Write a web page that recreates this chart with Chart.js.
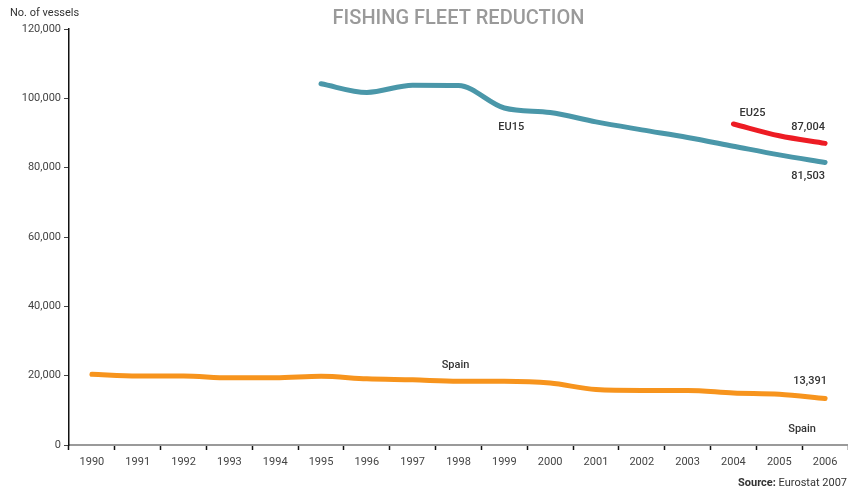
<!DOCTYPE html>
<html>
<head>
<meta charset="utf-8">
<title>Fishing fleet reduction</title>
<script src="https://cdn.jsdelivr.net/npm/chart.js@4.4.1/dist/chart.umd.min.js"></script>
<style>
  html, body { margin: 0; padding: 0; background: #fff; }
  #wrap { width: 848px; height: 488px; }
</style>
</head>
<body>
<div id="wrap"><canvas id="fleetchart" width="848" height="488"></canvas></div>
<script>
const years = ['1990','1991','1992','1993','1994','1995','1996','1997','1998',
               '1999','2000','2001','2002','2003','2004','2005','2006'];

// number of vessels, null where no figure exists
const eu15 = [null, null, null, null, null, 104200, 101700, 103800, 103700,
              97200, 95900, 93200, 90900, 88700, 86200, 83700, 81503];
const eu25 = [null, null, null, null, null, null, null, null, null,
              null, null, null, null, null, 92600, 89200, 87004];
const spain = [20400, 19900, 19900, 19400, 19400, 19800, 19100, 18800, 18400,
               18400, 17900, 16000, 15750, 15750, 15000, 14650, 13391];

const yTicks = [0, 20000, 40000, 60000, 80000, 100000, 120000];

const FONT = 'Roboto, "DejaVu Sans", sans-serif';
const fmt = v => v.toLocaleString('en-US');

// free text: title, axis caption, series names, end values, source
const textPlugin = {
    id: 'fleetText',
    afterDraw(chart) {
        const { ctx, chartArea, scales } = chart;
        const x = scales.x, y = scales.y;
        const last = years.length - 1;
        ctx.save();
        ctx.textBaseline = 'middle';

        ctx.font = '500 20px ' + FONT;
        ctx.fillStyle = '#9a9a9a';
        ctx.textAlign = 'center';
        ctx.fillText('FISHING FLEET REDUCTION', (chartArea.left + chartArea.right) / 2, 19);

        ctx.font = '11px ' + FONT;
        ctx.fillStyle = '#333';
        ctx.textAlign = 'left';
        ctx.fillText('No. of vessels', 10, 13);

        ctx.font = '500 11px ' + FONT;
        ctx.fillStyle = '#333';

        const label = (txt, xi, val, dx, dy, align) => {
            ctx.textAlign = align || 'center';
            ctx.fillText(txt, x.getPixelForValue(xi) + dx, y.getPixelForValue(val) + dy);
        };

        label('EU15', 9, eu15[9], 7, 19);
        label('EU25', 14, eu25[14], 19, -11);
        label(fmt(eu25[last]), last, eu25[last], 0, -16, 'right');
        label(fmt(eu15[last]), last, eu15[last], 0, 14, 'right');
        label('Spain', 8, spain[8], -3, -16);
        label(fmt(spain[last]), last, spain[last], 2, -17, 'right');
        label('Spain', last, spain[last], -23, 31);

        ctx.textAlign = 'right';
        const src = 'Eurostat 2007';
        ctx.font = '11px ' + FONT;
        const w = ctx.measureText(src).width;
        ctx.fillText(src, 847, 483);
        ctx.font = 'bold 11px ' + FONT;
        ctx.fillText('Source: ', 847 - w, 483);
        ctx.restore();
    }
};

const lineStyle = color => ({
    borderColor: color,
    backgroundColor: color,
    borderWidth: 5,
    borderCapStyle: 'round',
    borderJoinStyle: 'round',
    pointRadius: 0,
    cubicInterpolationMode: 'monotone',
    fill: false
});

const ctx = document.getElementById('fleetchart').getContext('2d');

const fleetChart = new Chart(ctx, {
    type: 'line',
    data: {
        labels: years,
        datasets: [
            { label: 'EU15', data: eu15, ...lineStyle('#4a97a9') },
            { label: 'EU25', data: eu25, ...lineStyle('#ed1c24') },
            { label: 'Spain', data: spain, ...lineStyle('#f7941d') }
        ]
    },
    options: {
        responsive: false,
        animation: false,
        devicePixelRatio: 1,
        layout: { padding: { top: 29, right: 0, bottom: 0, left: 0 } },
        plugins: {
            legend: { display: false },
            tooltip: { enabled: false }
        },
        scales: {
            x: {
                offset: true,
                afterFit: scale => { scale.height = 43; },
                grid: {
                    offset: true,
                    drawOnChartArea: false,
                    drawTicks: true,
                    tickLength: 5,
                    tickWidth: 1.5,
                    tickColor: '#111'
                },
                border: { color: '#9a9a9a', width: 2 },
                ticks: {
                    color: '#444',
                    padding: 6,
                    maxRotation: 0,
                    autoSkip: false,
                    font: { family: FONT, size: 11 }
                }
            },
            y: {
                min: 0,
                max: 120000,
                afterFit: scale => { scale.width = 69; },
                afterBuildTicks: scale => {
                    scale.ticks = yTicks.map(v => ({ value: v }));
                },
                grid: {
                    drawOnChartArea: false,
                    drawTicks: true,
                    tickLength: 5,
                    tickColor: '#444'
                },
                border: { color: '#111', width: 1.5 },
                ticks: {
                    color: '#444',
                    padding: 3,
                    font: { family: FONT, size: 11 },
                    callback: v => fmt(v)
                }
            }
        }
    },
    plugins: [textPlugin]
});
</script>
</body>
</html>
